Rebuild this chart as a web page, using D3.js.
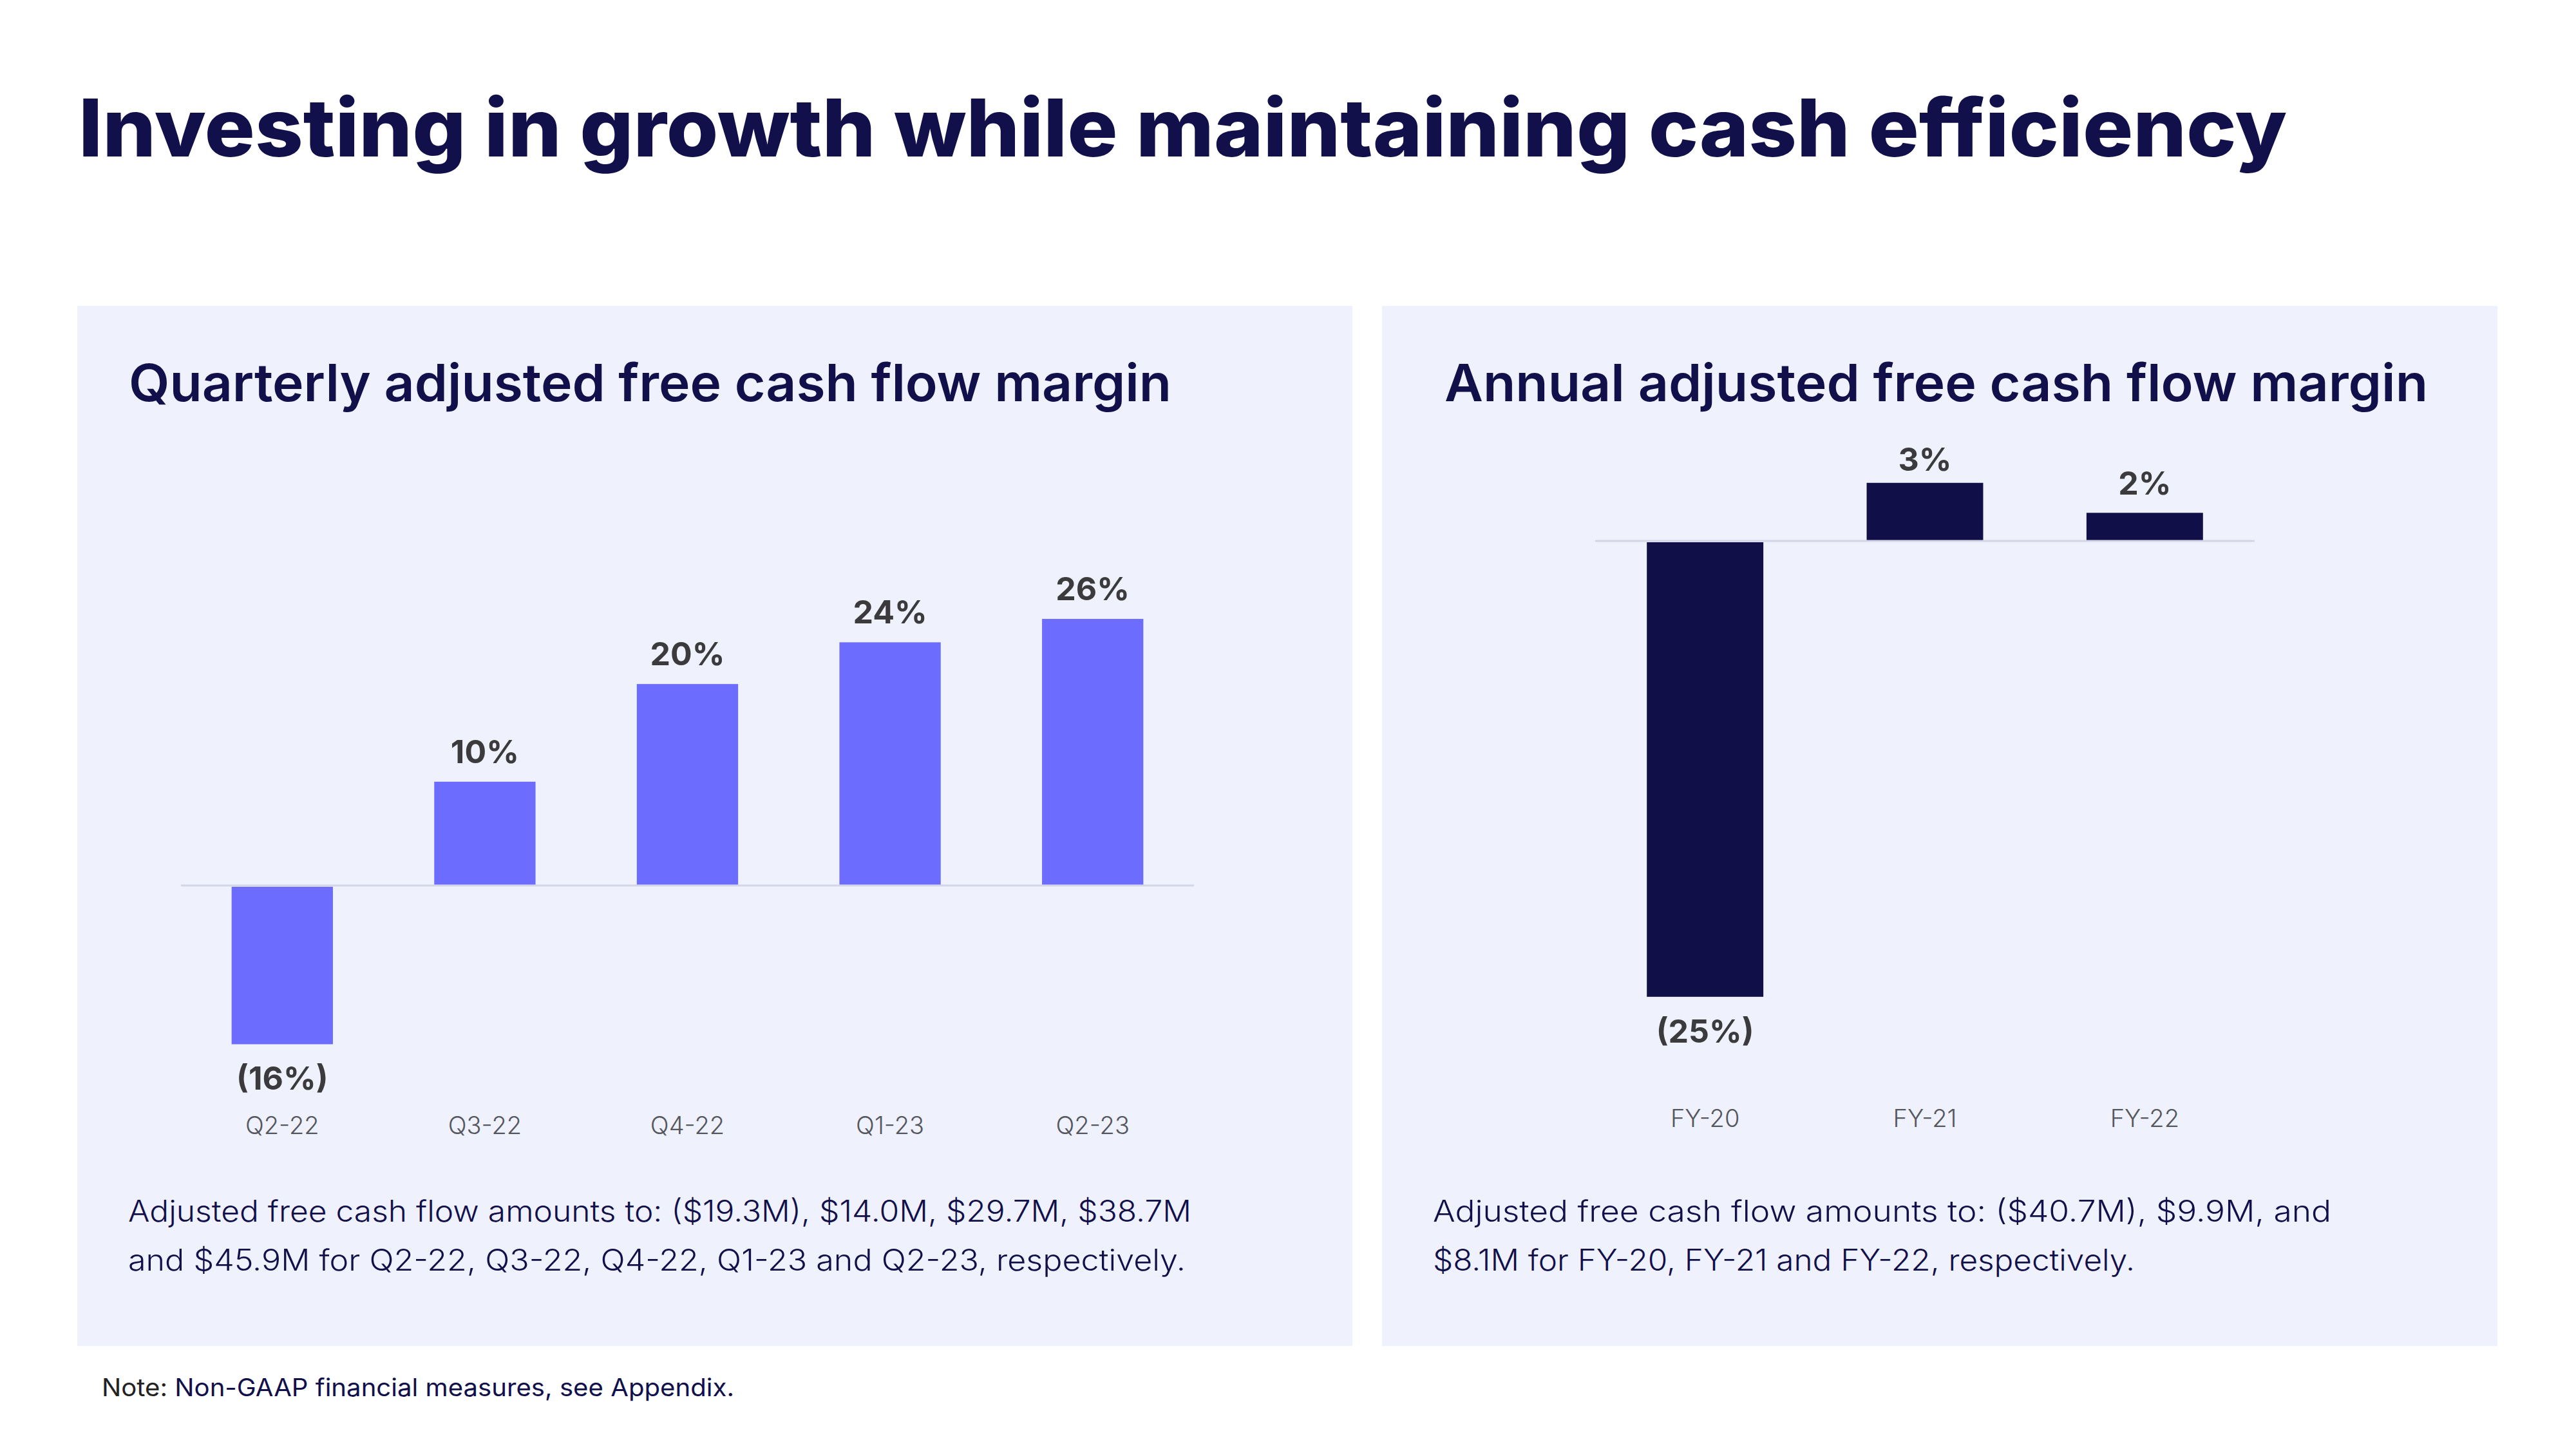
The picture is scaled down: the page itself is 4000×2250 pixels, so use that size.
<!DOCTYPE html>
<html><head><meta charset="utf-8">
<script src="https://cdn.jsdelivr.net/npm/d3@7"></script>
<style>html,body{margin:0;padding:0;background:#fff}svg{display:block}</style>
</head><body>
<script>
// ---- data ----
const quarters = ["Q2-22","Q3-22","Q4-22","Q1-23","Q2-23"];
const quarterlyMargin = [-15.6, 10.2, 19.8, 23.9, 26.2];
const quarterlyLabels = ["(16%)","10%","20%","24%","26%"];
const years = ["FY-20","FY-21","FY-22"];
const annualMargin = [-25.1, 3.2, 1.55];
const annualLabels = ["(25%)","3%","2%"];
const mainTitle = "Investing in growth while maintaining cash efficiency";
const leftTitle = "Quarterly adjusted free cash flow margin";
const rightTitle = "Annual adjusted free cash flow margin";
const leftNote = ["Adjusted free cash flow amounts to: ($19.3M), $14.0M, $29.7M, $38.7M",
                  "and $45.9M for Q2-22, Q3-22, Q4-22, Q1-23 and Q2-23, respectively."];
const rightNote = ["Adjusted free cash flow amounts to: ($40.7M), $9.9M, and",
                   "$8.1M for FY-20, FY-21 and FY-22, respectively."];

const W = 4000, H = 2250;
const FONT = "Inter, 'Noto Sans', sans-serif";
const NAVY = "#11104a";
const svg = d3.select("body").append("svg").attr("width", W).attr("height", H);
svg.append("rect").attr("width", W).attr("height", H).attr("fill", "#fff");

function txt(g, s, x, y, size, weight, fill, len, anchor) {
  const t = g.append("text").attr("x", x).attr("y", y).text(s)
    .attr("font-family", FONT).attr("font-size", size).attr("font-weight", weight)
    .attr("fill", fill).attr("text-anchor", anchor || "start");
  if (len) t.attr("textLength", len).attr("lengthAdjust", "spacingAndGlyphs");
  return t;
}

// main title
txt(svg, mainTitle, 122, 243, 124, 800, NAVY, 3429);

// panels
svg.append("rect").attr("x", 120).attr("y", 475).attr("width", 1980).attr("height", 1615).attr("fill", "#eff1fd");
svg.append("rect").attr("x", 2146).attr("y", 475).attr("width", 1732).attr("height", 1615).attr("fill", "#eff1fd");

txt(svg, leftTitle, 200, 623, 80, 600, NAVY, 1619);
txt(svg, rightTitle, 2243, 623, 80, 600, NAVY, 1527);

// ---- quarterly chart ----
{
  const x = d3.scaleBand().domain(quarters).range([281, 1854]).paddingInner(0.5).paddingOuter(0.25);
  const zero = 1375, ppu = 15.8;
  const y = d3.scaleLinear().domain([-20, 30]).range([zero + 20 * ppu, zero - 30 * ppu]);
  const g = svg.append("g");
  g.selectAll("rect.bar").data(quarterlyMargin).join("rect").attr("class", "bar")
    .attr("x", (d, i) => x(quarters[i])).attr("width", x.bandwidth())
    .attr("y", d => d >= 0 ? y(d) : y(0) + 2)
    .attr("height", d => d >= 0 ? y(0) - y(d) : y(d) - y(0) - 2)
    .attr("fill", "#6c6cff");
  g.append("line").attr("x1", 281).attr("x2", 1854).attr("y1", y(0)).attr("y2", y(0))
    .attr("stroke", "#d3d6e6").attr("stroke-width", 3);
  g.selectAll("text.lbl").data(quarterlyMargin).join("text").attr("class", "lbl")
    .attr("x", (d, i) => x(quarters[i]) + x.bandwidth() / 2)
    .attr("y", d => d >= 0 ? y(d) - 29 : y(d) + 71)
    .attr("text-anchor", "middle").attr("font-family", FONT).attr("font-size", 50)
    .attr("font-weight", 700).attr("fill", "#3b3b3d")
    .text((d, i) => quarterlyLabels[i]);
  const ax = g.append("g").attr("transform", "translate(0,1761)")
    .call(d3.axisBottom(x).tickSize(0));
  ax.select(".domain").remove();
  ax.selectAll("text").attr("y", 0).attr("dy", 0).attr("font-family", FONT)
    .attr("font-size", 38).attr("font-weight", 300).attr("fill", "#55575e");
}

// ---- annual chart ----
{
  const x = d3.scaleBand().domain(years).range([2477, 3501]).paddingInner(0.47).paddingOuter(0.235);
  const zero = 840, ppu = 28.2;
  const y = d3.scaleLinear().domain([-25, 5]).range([zero + 25 * ppu, zero - 5 * ppu]);
  const g = svg.append("g");
  g.selectAll("rect.bar").data(annualMargin).join("rect").attr("class", "bar")
    .attr("x", (d, i) => x(years[i])).attr("width", x.bandwidth())
    .attr("y", d => d >= 0 ? y(d) : y(0) + 2)
    .attr("height", d => d >= 0 ? y(0) - y(d) : y(d) - y(0) - 2)
    .attr("fill", "#110f47");
  g.append("line").attr("x1", 2477).attr("x2", 3501).attr("y1", y(0)).attr("y2", y(0))
    .attr("stroke", "#d3d6e6").attr("stroke-width", 3);
  g.selectAll("text.lbl").data(annualMargin).join("text").attr("class", "lbl")
    .attr("x", (d, i) => x(years[i]) + x.bandwidth() / 2)
    .attr("y", d => d >= 0 ? Math.min(y(d) - 19, y(0) - 72) : y(d) + 71)
    .attr("text-anchor", "middle").attr("font-family", FONT).attr("font-size", 50)
    .attr("font-weight", 700).attr("fill", "#3b3b3d")
    .text((d, i) => annualLabels[i]);
  const ax = g.append("g").attr("transform", "translate(0,1750)")
    .call(d3.axisBottom(x).tickSize(0));
  ax.select(".domain").remove();
  ax.selectAll("text").attr("y", 0).attr("dy", 0).attr("font-family", FONT)
    .attr("font-size", 38).attr("font-weight", 300).attr("fill", "#55575e");
}

// notes
txt(svg, leftNote[0], 199, 1897, 46, 300, NAVY, 1651);
txt(svg, leftNote[1], 199, 1973, 46, 300, NAVY, 1642);
txt(svg, rightNote[0], 2225, 1897, 46, 300, NAVY, 1395);
txt(svg, rightNote[1], 2225, 1973, 46, 300, NAVY, 1090);

const note = svg.append("text").attr("x", 158).attr("y", 2168).attr("font-family", FONT)
  .attr("font-size", 38).attr("font-weight", 400).attr("textLength", 982).attr("lengthAdjust", "spacingAndGlyphs");
note.append("tspan").attr("fill", "#222").text("Note: ");
note.append("tspan").attr("fill", NAVY).text("Non-GAAP financial measures, see Appendix.");
</script>
</body></html>
